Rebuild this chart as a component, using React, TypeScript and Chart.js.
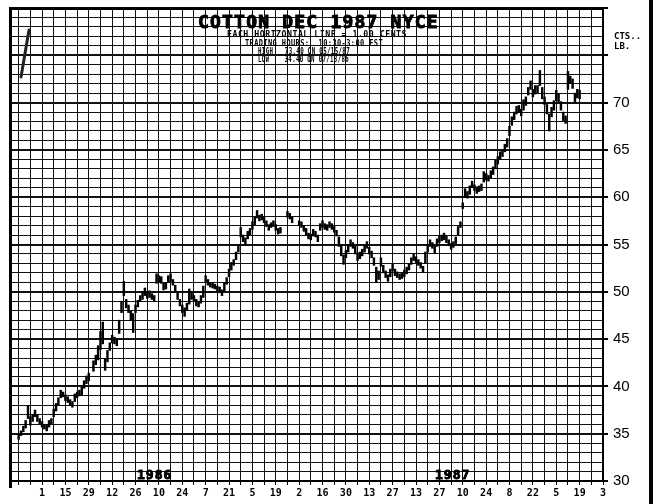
import React, { useEffect, useRef } from 'react';
import { Chart, registerables } from 'chart.js';

Chart.register(...registerables);

// Trading-day index 0 = Fri Jul 18 1986, 250 = Fri Jul 3 1987 (5 days per week)
const X_MIN = -3.7;
const X_MAX = 250;
const Y_MIN = 30;
const Y_MAX = 80;

const xTickDays = [10, 20, 30, 40, 50, 60, 70, 80, 90, 100, 110, 120, 130, 140, 150, 160, 170, 180, 190, 200, 210, 220, 230, 240, 250];
const xTickLabels = ['1', '15', '29', '12', '26', '10', '24', '7', '21', '5', '19', '2', '16', '30', '13', '27', '13', '27', '10', '24', '8', '22', '5', '19', '3'];
const yLabelValues = [30, 35, 40, 45, 50, 55, 60, 65, 70];

const lows: (number | null)[] = [
  34.4, 34.8, 35.2, 35.6, 36.6, 35.9, 36.3, 36.8, 36.3, 36.0,
  35.7, 35.5, 35.3, 35.7, 36.0, 36.8, 37.4, 38.0, 38.8, 38.9,
  38.5, 38.3, 38.0, 37.8, 38.4, 38.8, 39.0, 39.1, 39.8, 40.3,
  40.6, null, 41.6, 42.3, 42.8, 43.9, 44.5, 41.7, 42.6, 43.8,
  44.6, 44.5, 44.3, 45.6, 47.8, 49.6, 48.3, 47.8, 47.0, 45.7,
  47.8, 48.4, 49.0, 49.2, 49.6, 49.3, 49.4, 49.2, 49.0, 50.9,
  51.0, 50.9, 50.2, 50.3, 51.0, 51.1, 50.7, 50.0, 49.2, 48.5,
  47.8, 47.4, 48.1, 48.7, 49.2, 49.0, 48.5, 48.4, 48.8, 49.4,
  51.0, 50.7, 50.5, 50.4, 50.3, 50.1, 49.9, 49.6, 50.1, 50.8,
  51.6, 52.3, 52.8, 53.4, 54.2, 55.8, 55.3, 55.0, 55.6, 56.0,
  56.6, 57.1, 57.8, 57.5, 57.6, 57.3, 56.9, 56.5, 56.8, 56.9,
  56.5, 56.1, 56.2, null, null, 57.9, 57.7, 57.3, null, null,
  57.0, 56.8, 56.4, 56.0, 55.6, 55.5, 55.9, 55.8, 55.3, 56.5,
  56.8, 56.6, 56.5, 56.8, 56.6, 56.3, 55.9, 54.8, 53.8, 52.9,
  53.6, 54.2, 54.8, 54.6, 54.0, 53.3, 53.5, 53.8, 54.2, 54.6,
  54.0, 53.6, 52.8, 51.0, 51.3, 52.7, 52.0, 51.5, 51.1, 51.6,
  52.2, 51.7, 51.5, 51.3, 51.4, 51.6, 51.9, 52.3, 52.9, 53.3,
  53.1, 52.8, 52.5, 52.1, 53.0, 54.2, 54.8, 54.6, 54.1, 54.8,
  55.2, 55.4, 55.5, 55.2, 54.9, 54.5, 54.7, 55.1, 56.0, 56.8,
  58.8, 60.0, 59.9, 60.3, 61.0, 60.7, 60.4, 60.6, 60.7, 61.6,
  61.8, 61.7, 62.0, 62.4, 63.0, 63.5, 64.0, 64.3, 64.8, 65.3,
  66.5, 67.6, 68.2, 68.8, 69.0, 68.6, 69.2, 69.7, 70.8, 71.4,
  70.6, 70.9, 71.0, 71.8, 70.4, 69.8, 68.8, 67.0, 68.5, 69.2,
  70.2, 70.1, 69.2, 68.1, 67.8, 71.4, 72.0, 71.5, 70.0, 70.5,
  70.4,
];

const highs: (number | null)[] = [
  35.0, 35.3, 35.8, 36.4, 38.0, 36.8, 37.0, 37.5, 37.0, 36.6,
  36.3, 36.0, 35.9, 36.4, 36.6, 37.6, 38.2, 38.8, 39.6, 39.4,
  39.1, 38.9, 38.6, 38.4, 39.2, 39.4, 39.6, 39.9, 40.6, 41.1,
  41.4, null, 42.7, 43.3, 44.3, 45.8, 46.8, 42.9, 43.8, 44.6,
  45.4, 45.2, 45.0, 47.0, 49.0, 51.1, 49.2, 48.6, 48.0, 47.7,
  48.6, 49.1, 49.6, 50.0, 50.4, 50.0, 50.1, 49.8, 49.6, 51.9,
  51.7, 51.6, 50.9, 51.0, 51.7, 51.9, 51.3, 50.7, 50.0, 49.2,
  48.6, 48.3, 48.8, 50.3, 50.0, 49.6, 49.2, 49.0, 49.6, 50.6,
  51.7, 51.3, 51.0, 50.9, 50.8, 50.6, 50.5, 50.2, 51.0, 51.5,
  52.4, 53.1, 53.4, 54.2, 55.0, 56.8, 56.0, 55.7, 56.4, 56.7,
  57.4, 57.9, 58.6, 58.1, 58.2, 57.9, 57.5, 57.1, 57.3, 57.5,
  57.1, 56.7, 56.8, null, null, 58.5, 58.3, 57.9, null, null,
  57.5, 57.4, 57.0, 56.7, 56.2, 56.1, 56.6, 56.4, 56.0, 57.2,
  57.5, 57.2, 57.1, 57.4, 57.2, 56.9, 56.5, 55.8, 55.0, 53.9,
  54.4, 55.0, 55.5, 55.2, 54.8, 54.1, 54.2, 54.5, 54.9, 55.3,
  54.7, 54.3, 53.6, 52.6, 52.2, 53.6, 52.8, 52.2, 51.8, 52.4,
  52.9, 52.4, 52.1, 51.9, 52.0, 52.3, 52.6, 53.0, 53.6, 54.0,
  53.7, 53.4, 53.1, 52.7, 54.2, 55.0, 55.5, 55.2, 54.8, 55.6,
  55.9, 56.0, 56.2, 55.9, 55.5, 55.1, 55.3, 55.8, 56.9, 57.4,
  59.4, 60.9, 60.6, 61.2, 61.7, 61.3, 61.1, 61.2, 61.4, 62.7,
  62.5, 62.3, 62.8, 63.2, 63.9, 64.3, 64.8, 65.0, 65.6, 66.2,
  67.5, 68.5, 69.0, 69.6, 69.7, 69.3, 70.3, 70.6, 71.6, 72.3,
  71.4, 71.8, 71.8, 73.4, 71.6, 70.6, 69.8, 68.8, 69.5, 70.2,
  71.3, 70.9, 70.1, 69.0, 68.6, 73.3, 72.8, 72.5, 71.0, 71.4,
  71.3,
];

const titleText = 'COTTON DEC 1987 NYCE';
const subtitleLines = [
  'EACH HORIZONTAL LINE = 1.00 CENTS',
  'TRADING HOURS:  10:30-3:00 EST',
  'HIGH   73.40 ON 05/15/87',
  'LOW    34.40 ON 07/18/86',
];
const unitLines = ['CTS..', 'LB.'];
const yearLabels = ['1986', '1987'];

const overlayPlugin = {
  id: 'overlay',
  beforeDraw(chart: any) {
    const ctx = chart.ctx;
    ctx.save();
    ctx.fillStyle = '#ffffff';
    ctx.fillRect(0, 0, chart.width, chart.height);
    ctx.restore();
  },
  afterDraw(chart: any) {
    const ctx = chart.ctx;
    const area = chart.chartArea;
    ctx.save();
    ctx.fillStyle = '#000';
    // frame
    ctx.fillRect(area.left - 1, area.top - 1, area.right - area.left + 1, 3);
    ctx.fillRect(area.left - 1, area.top - 1, 3, area.bottom - area.top + 8);
    // right scan edge
    ctx.fillRect(649, 0, 4, chart.height);
    // scanner pen mark
    ctx.strokeStyle = '#222';
    ctx.lineWidth = 3;
    ctx.lineCap = 'round';
    ctx.beginPath();
    ctx.moveTo(29, 30);
    ctx.lineTo(21, 77);
    ctx.stroke();

    // title
    ctx.textBaseline = 'alphabetic';
    ctx.textAlign = 'left';
    ctx.lineWidth = 1;
    ctx.strokeStyle = '#000';
    (ctx as any).letterSpacing = '1.2px';
    ctx.font = "bold 18px 'DejaVu Sans Mono'";
    ctx.fillText(titleText, 198, 28, 242);
    ctx.strokeText(titleText, 198, 28, 242);
    (ctx as any).letterSpacing = '0.5px';
    ctx.font = "bold 8.5px 'DejaVu Sans Mono'";
    const subX = [227, 245, 258, 258];
    const subW = [180, 138, 92, 91];
    const subY = [37, 45.5, 54, 62];
    subtitleLines.forEach((t, i) => ctx.fillText(t, subX[i], subY[i], subW[i]));

    // units
    (ctx as any).letterSpacing = '0px';
    ctx.font = "bold 9px 'DejaVu Sans Mono'";
    ctx.fillText(unitLines[0], 614, 39);
    ctx.fillText(unitLines[1], 614, 49);

    // years
    (ctx as any).letterSpacing = '1px';
    ctx.font = "bold 13px 'DejaVu Sans Mono'";
    ctx.fillText(yearLabels[0], 137, 479);
    ctx.strokeText(yearLabels[0], 137, 479);
    ctx.fillText(yearLabels[1], 435, 479);
    ctx.strokeText(yearLabels[1], 435, 479);
    ctx.restore();
  },
};

export default function App() {
  const ref = useRef<HTMLCanvasElement>(null);
  useEffect(() => {
    const points: { x: number; y: [number, number] }[] = [];
    lows.forEach((lo, i) => {
      const hi = highs[i];
      if (lo !== null && hi !== null) points.push({ x: i, y: [lo, hi] });
    });
    const labelMap: Record<number, string> = {};
    xTickDays.forEach((d, i) => (labelMap[d] = xTickLabels[i]));

    const chart = new Chart(ref.current as HTMLCanvasElement, {
      type: 'bar',
      data: {
        datasets: [
          {
            data: points as any,
            backgroundColor: '#000',
            borderWidth: 0,
            barThickness: 1.8,
          },
        ],
      },
      options: {
        animation: false,
        responsive: false,
        devicePixelRatio: 1,
        layout: { padding: { left: 10, top: 8, right: 0, bottom: 0 } },
        plugins: { legend: { display: false }, tooltip: { enabled: false } },
        scales: {
          x: {
            type: 'linear',
            min: X_MIN,
            max: X_MAX,
            offset: false,
            afterBuildTicks: (scale: any) => {
              const vals = [X_MIN];
              for (let v = 0; v <= X_MAX; v += 5) vals.push(v);
              scale.ticks = vals.map((v) => ({ value: v }));
            },
            afterFit: (scale: any) => {
              scale.height = 23;
              scale.paddingLeft = 0;
              scale.paddingRight = 0;
            },
            grid: {
              offset: false,
              color: '#111',
              lineWidth: (c: any) => (c.tick && c.tick.value < 0 ? 3 : 1),
              tickLength: 4,
              tickColor: '#000',
            },
            border: { display: true, color: '#000', width: 2 },
            ticks: {
              autoSkip: false,
              maxRotation: 0,
              padding: 2,
              color: '#000',
              font: { family: "'DejaVu Sans Mono'", size: 10, weight: 'bold' },
              callback: (v: any) => labelMap[v as number] ?? '',
            },
          },
          y: {
            type: 'linear',
            position: 'right',
            min: Y_MIN,
            max: Y_MAX,
            afterBuildTicks: (scale: any) => {
              const vals: number[] = [];
              for (let v = Y_MIN; v <= Y_MAX; v += 1) vals.push(v);
              scale.ticks = vals.map((v) => ({ value: v }));
            },
            afterFit: (scale: any) => {
              scale.width = 50;
              scale.paddingTop = 0;
              scale.paddingBottom = 0;
            },
            grid: {
              color: '#111',
              lineWidth: (c: any) => (c.tick && c.tick.value % 5 === 0 ? 2 : 1),
              tickLength: 5,
              tickColor: (c: any) => (c.tick && c.tick.value % 5 === 0 ? '#000' : 'rgba(0,0,0,0)'),
            },
            border: { display: true, color: '#000', width: 2 },
            ticks: {
              autoSkip: false,
              padding: 5,
              color: '#000',
              font: { family: "'Liberation Sans'", size: 15 },
              callback: (v: any) => (yLabelValues.includes(v as number) ? String(v) : ''),
            },
          },
        },
      },
      plugins: [overlayPlugin],
    } as any);
    return () => chart.destroy();
  }, []);

  return (
    <div style={{ position: 'fixed', left: 0, top: 0, width: 653, height: 504, background: '#fff' }}>
      <canvas ref={ref} width={653} height={504} style={{ display: 'block', width: 653, height: 504 }} />
    </div>
  );
}
